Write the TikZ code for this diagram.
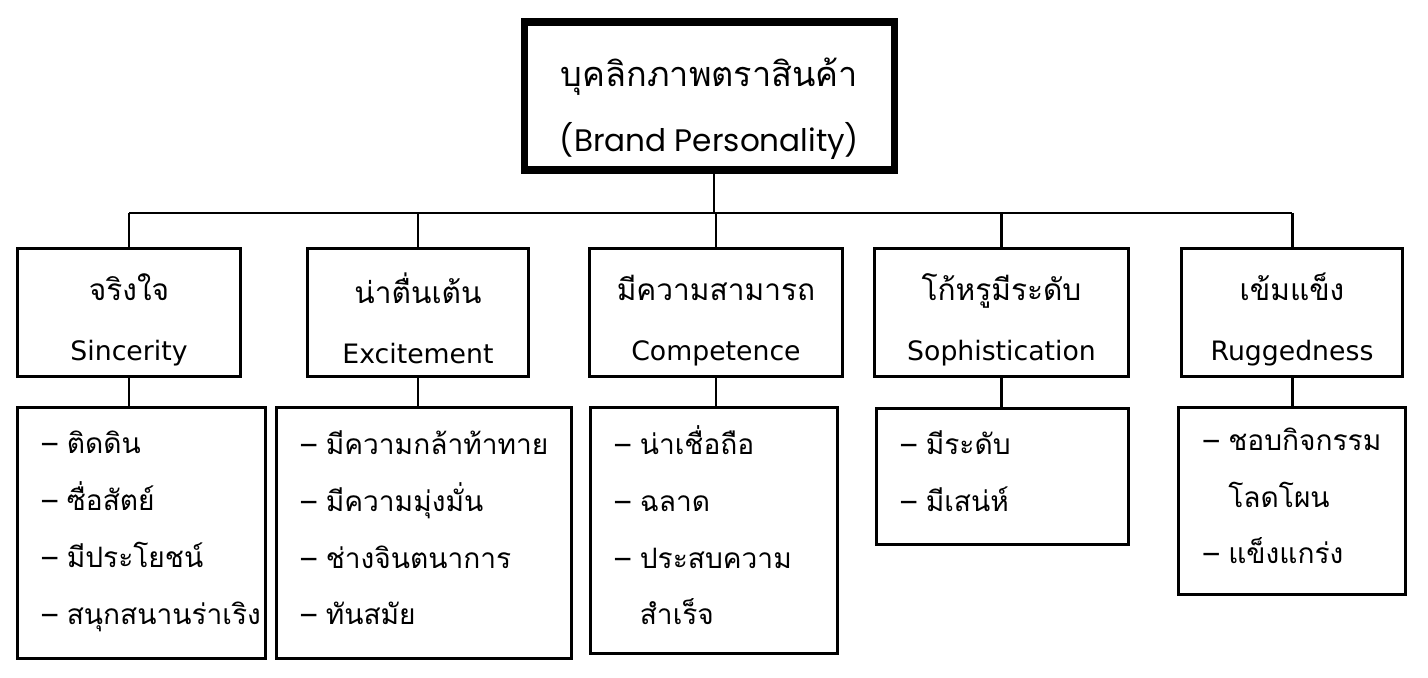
\documentclass[tikz,border=0pt]{standalone}
\usepackage{fontspec}
\setmainfont[Script=Thai]{Loma}
\newfontfamily\catfont{DejaVu Sans}
\newfontfamily\titlefont{Poppins}
\usetikzlibrary{positioning}

\newcommand{\trait}[1]{\mbox{–\ #1}}
\newcommand{\traitmore}[1]{\mbox{\hphantom{–\ }#1}}

\tikzset{
  headbox/.style={draw, line width=4.5pt, minimum width=7.4cm, minimum height=2.96cm,
    align=center, font=\fontsize{19.5}{37}\selectfont,
    execute at begin node={\rule{0pt}{68pt}}},
  catbox/.style={draw, line width=1.7pt, minimum width=#1, minimum height=2.56cm,
    align=center, font=\fontsize{17}{34}\selectfont,
    execute at begin node={\rule{0pt}{58pt}}},
  itembox/.style={draw, line width=1.7pt, text width=#1, inner xsep=0.5cm,
    align=left, font=\fontsize{16}{32.3}\selectfont,
    execute at end node={\rule[-6pt]{0pt}{0pt}}},
  link/.style={line width=1.7pt}
}

\begin{document}
\begin{tikzpicture}[x=0.02cm, y=-0.02cm]
    \useasboundingbox (0,0) rectangle (1428,678);

    % Top box
    \node[headbox] (brand) at (709.5,96) {บุคลิกภาพตราสินค้า\\{\titlefont\fontsize{17.7}{37}\selectfont(Brand Personality)}};

    % The five dimensions
    \node[catbox=4.46cm] (sincerity) at (129,312.5) {จริงใจ\\{\catfont\fontsize{15.2}{34}\selectfont Sincerity}};
    \node[catbox=4.44cm] (excitement) at (418,312.5) {น่าตื่นเต้น\\{\catfont\fontsize{15.2}{34}\selectfont Excitement}};
    \node[catbox=5.06cm] (competence) at (716,312.5) {มีความสามารถ\\{\catfont\fontsize{15.2}{34}\selectfont Competence}};
    \node[catbox=5.08cm] (sophistication) at (1001.5,312.5) {โก้หรูมีระดับ\\{\catfont\fontsize{15.2}{34}\selectfont Sophistication}};
    \node[catbox=4.44cm] (ruggedness) at (1292,312.5) {เข้มแข็ง\\{\catfont\fontsize{15.2}{34}\selectfont Ruggedness}};

    % Traits under each dimension
    \node[itembox=3.98cm, minimum height=5.04cm] (sinitems) at (141.5,533)
        {\trait{ติดดิน}\\\trait{ซื่อสัตย์}\\\trait{มีประโยชน์}\\\trait{สนุกสนานร่าเริง}};
    \node[itembox=4.92cm, minimum height=5.04cm] (excitems) at (424,533)
        {\trait{มีความกล้าท้าทาย}\\\trait{มีความมุ่งมั่น}\\\trait{ช่างจินตนาการ}\\\trait{ทันสมัย}};
    \node[itembox=3.96cm, minimum height=4.94cm] (compitems) at (714,530.5)
        {\trait{น่าเชื่อถือ}\\\trait{ฉลาด}\\\trait{ประสบความ}\\\traitmore{สำเร็จ}};
    \node[itembox=4.06cm, minimum height=2.74cm] (sophitems) at (1002.5,476.5)
        {\trait{มีระดับ}\\\trait{มีเสน่ห์}};
    \node[itembox=3.54cm, minimum height=3.76cm] (ruggitems) at (1292,501)
        {\trait{ชอบกิจกรรม}\\\traitmore{โลดโผน}\\\trait{แข็งแกร่ง}};

    % Bus line
    \coordinate (bus) at (714,213);
    \draw[link] (brand.south -| bus) -- (bus);
    \draw[link] (sincerity.north |- bus) -- (ruggedness.north |- bus);

    % Drops to the dimensions and to their traits
    \foreach \cat/\items in {sincerity/sinitems, excitement/excitems, competence/compitems,
                             sophistication/sophitems, ruggedness/ruggitems} {
        \draw[link] (\cat.north |- bus) -- (\cat.north);
        \draw[link] (\cat.south) -- (\cat.south |- \items.north);
    }

\end{tikzpicture}
\end{document}
